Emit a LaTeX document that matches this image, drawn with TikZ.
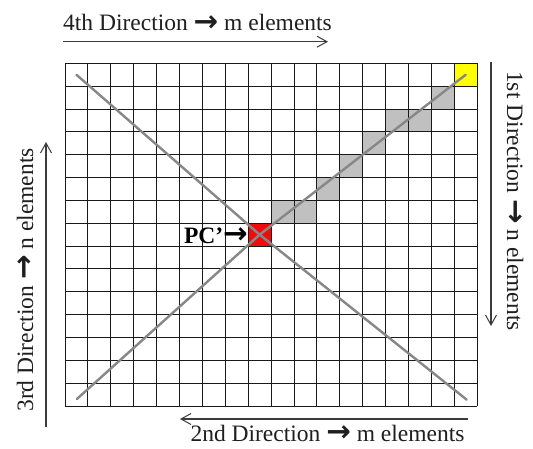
\documentclass[tikz,border=0pt]{standalone}
\usepackage{fontspec}
\setmainfont{Liberation Serif}
\newfontfamily\arrfont{DejaVu Sans}
\newcommand\myarr{\raisebox{-0.03em}{\scalebox{1.25}{\arrfont\bfseries →}}}
\usetikzlibrary{arrows.meta}
\definecolor{gridc}{RGB}{25,25,25}
\definecolor{diagc}{RGB}{135,135,135}
\definecolor{arrowc}{RGB}{60,60,60}
\definecolor{cellgray}{RGB}{192,192,192}
\definecolor{cellred}{RGB}{240,12,12}
\definecolor{cellyellow}{RGB}{255,255,0}
\begin{document}
\begin{tikzpicture}[x=1pt,y=-1pt,
  lbl/.style={font=\fontsize{23.5}{28}\selectfont, inner sep=0pt, text=black!88},
  pclbl/.style={font=\fontsize{23.5}{28}\selectfont\bfseries, inner sep=0pt, text=black},
  dirarrow/.style={draw=arrowc, line width=1.2pt, -{Straight Barb[length=10pt,width=11pt,line width=1pt]}},
  gridline/.style={draw=gridc, line width=1pt},
  diag/.style={draw=diagc, line width=2.4pt, line cap=round},
]
\useasboundingbox (0,0) rectangle (533,448);
\fill[white] (0,0) rectangle (533,448);
\begin{scope}[shift={(65,63.3)}, x=22.9pt, y=-22.85pt]
  \foreach \c/\r in {16/1,14/2,15/2,13/3,12/4,11/5,9/6,10/6}
    \fill[cellgray] (\c,\r) rectangle ++(1,1);
  \fill[cellred] (8,7) rectangle ++(1,1);
  \fill[cellyellow] (17,0) rectangle ++(1,1);
  \foreach \i in {0,...,18} \draw[gridline] (\i,0) -- (\i,15);
  \foreach \j in {0,...,15} \draw[gridline] (0,\j) -- (18,\j);
  \coordinate (ctr) at (8.5,7.5);
  \coordinate (tl) at (0.5,0.5);
  \coordinate (tr) at (17.5,0.5);
  \coordinate (bl) at (0.52,14.69);
  \coordinate (br) at (17.54,14.72);
  \draw[diag] (tl) -- (ctr) -- (br);
  \draw[diag] (bl) -- (ctr) -- (tr);
\end{scope}
% labels
\node[lbl, anchor=base] (t4) at (197.5,30.7) {4th Direction \myarr\ m elements};
\node[lbl, anchor=base] (t2) at (327.5,441) {2nd Direction \myarr\ m elements};
\node[lbl, anchor=base, rotate=90] (t3) at (33,280) {3rd Direction \myarr\ n elements};
\node[lbl, anchor=base, rotate=-90] (t1) at (507,201) {1st Direction \myarr\ n elements};
\node[pclbl, anchor=base east] (pc) at (248,243) {PC’\myarr};
% direction arrows
\coordinate (a4s) at (63,41.7);   \coordinate (a4e) at (328,41.7);
\coordinate (a2s) at (467.7,419); \coordinate (a2e) at (180,419);
\coordinate (a3s) at (46,427);    \coordinate (a3e) at (46,142);
\coordinate (a1s) at (491,62);    \coordinate (a1e) at (491,326);
\draw[dirarrow] (a4s) -- (a4e);
\draw[dirarrow] (a2s) -- (a2e);
\draw[dirarrow] (a3s) -- (a3e);
\draw[dirarrow] (a1s) -- (a1e);
\end{tikzpicture}
\end{document}
